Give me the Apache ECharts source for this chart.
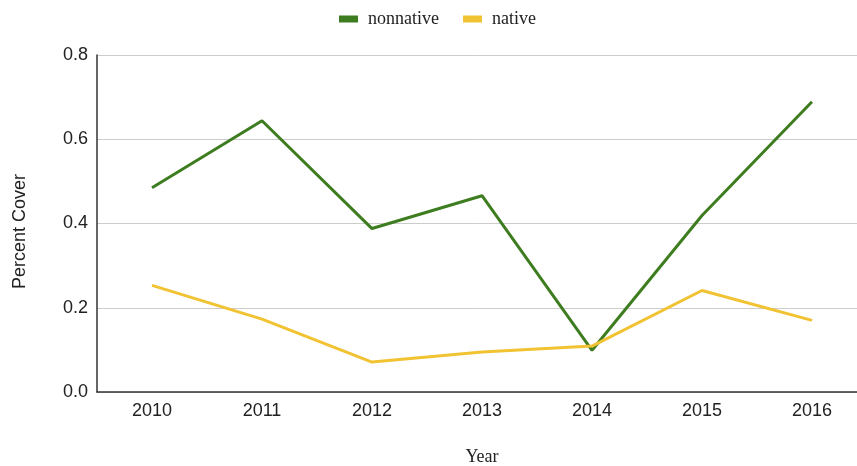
<!DOCTYPE html>
<html><head><meta charset="utf-8">
<script src="https://cdn.jsdelivr.net/npm/echarts@6/dist/echarts.min.js"></script>
<style>html,body{margin:0;padding:0;background:#fff}#c{width:857px;height:466px}</style>
</head><body><div id="c"></div>
<script>
var years = ['2010','2011','2012','2013','2014','2015','2016'];
var nonnative = [0.485, 0.644, 0.388, 0.466, 0.099, 0.419, 0.689];
var native = [0.253, 0.173, 0.071, 0.095, 0.109, 0.241, 0.170];

var chart = echarts.init(document.getElementById('c'));
chart.setOption({
  animation: false,
  legend: {
    top: 5, left: 334,
    itemWidth: 19, itemHeight: 7, itemGap: 24,
    icon: 'rect',
    textStyle: { fontFamily: 'Liberation Serif', fontSize: 18, color: '#222', padding: [0, 0, 0, 5] },
    data: ['nonnative', 'native']
  },
  grid: { left: 97, top: 55, width: 770, height: 337, containLabel: false, outerBoundsMode: 'none' },
  xAxis: {
    type: 'category', data: years, boundaryGap: true,
    name: 'Year', nameLocation: 'middle', nameGap: 56,
    nameTextStyle: { fontFamily: 'Liberation Serif', fontSize: 18, color: '#222' },
    axisLine: { lineStyle: { color: '#333', width: 1.5 } },
    axisTick: { show: false },
    axisLabel: { fontFamily: 'Liberation Sans', fontSize: 18, color: '#222', margin: 10 }
  },
  yAxis: {
    type: 'value', min: 0, max: 0.8, interval: 0.2,
    name: 'Percent Cover', nameLocation: 'middle', nameGap: 68, nameRotate: 90,
    nameTextStyle: { fontFamily: 'Liberation Sans', fontSize: 18, color: '#222', padding: [0, 16, 0, 0] },
    axisLine: { show: true, lineStyle: { color: '#333', width: 1.5 } },
    axisTick: { show: false },
    splitLine: { lineStyle: { color: '#ccc' } },
    axisLabel: { fontFamily: 'Liberation Sans', fontSize: 18, color: '#222', margin: 9,
      formatter: function (v) { return v.toFixed(1); } }
  },
  series: [
    { name: 'nonnative', type: 'line', data: nonnative, showSymbol: false,
      lineStyle: { color: '#3e7d1f', width: 3 }, itemStyle: { color: '#3e7d1f' } },
    { name: 'native', type: 'line', data: native, showSymbol: false,
      lineStyle: { color: '#f1c232', width: 3 }, itemStyle: { color: '#f1c232' } }
  ]
});
</script></body></html>
